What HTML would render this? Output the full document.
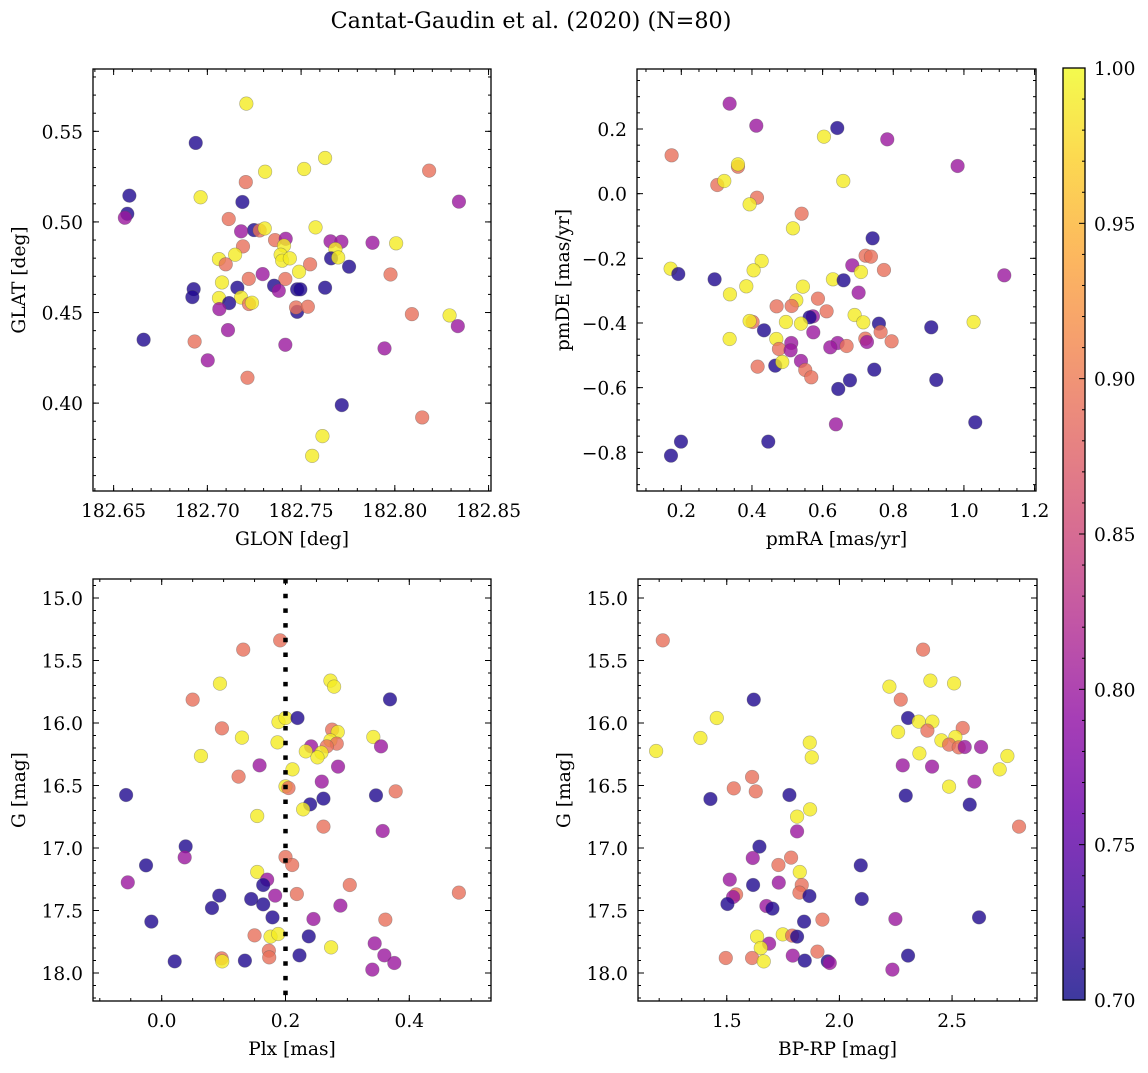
<!DOCTYPE html>
<html><head><meta charset="utf-8">
<style>
body{margin:0;background:#fff;}
svg text{font-family:"DejaVu Serif","Liberation Serif",serif;fill:#000;}
</style></head>
<body>
<svg id="fig" width="1148" height="1068" viewBox="0 0 1148 1068" xmlns="http://www.w3.org/2000/svg">
<text x="531" y="28" font-size="22.3" text-anchor="middle">Cantat-Gaudin et al. (2020) (N=80)</text>
</svg>
<script>
// ---- Panel 1: GLON / GLAT ----
const glon = [182.7208,182.6938,182.7628,182.8183,182.7308,182.7516,182.7205,182.6584,182.6964,182.7187,182.8342,182.6573,182.6560,182.7114,182.7577,182.7249,182.7279,182.7306,182.7180,182.7361,182.7418,182.7409,182.7190,182.7657,182.7715,182.7683,182.7881,182.8007,182.7148,182.7062,182.7098,182.7391,182.7399,182.7440,182.7660,182.7698,182.7548,182.7756,182.7489,182.7977,182.7295,182.7221,182.7416,182.7078,182.6927,182.6920,182.7160,182.7356,182.7381,182.7479,182.7496,182.7628,182.7062,182.7180,182.7116,182.7222,182.7238,182.7064,182.7479,182.7473,182.7536,182.8091,182.8292,182.8336,182.7110,182.6660,182.6932,182.7416,182.7945,182.7002,182.7214,182.7717,182.8146,182.7614,182.7559];
const glat = [0.5653,0.5436,0.5353,0.5283,0.5277,0.5292,0.5220,0.5145,0.5136,0.5110,0.5112,0.5045,0.5023,0.5016,0.4970,0.4955,0.4953,0.4964,0.4948,0.4900,0.4907,0.4869,0.4865,0.4893,0.4891,0.4850,0.4885,0.4882,0.4819,0.4795,0.4766,0.4819,0.4786,0.4799,0.4799,0.4804,0.4766,0.4753,0.4725,0.4710,0.4712,0.4686,0.4685,0.4666,0.4629,0.4585,0.4637,0.4648,0.4620,0.4628,0.4628,0.4637,0.4580,0.4583,0.4552,0.4547,0.4554,0.4519,0.4504,0.4528,0.4532,0.4491,0.4484,0.4425,0.4403,0.4350,0.4340,0.4322,0.4302,0.4236,0.4140,0.3989,0.3921,0.3818,0.3709];
const prob1 = [0.99,0.71,0.99,0.89,0.99,0.99,0.89,0.71,0.99,0.71,0.80,0.71,0.80,0.89,0.99,0.71,0.89,0.99,0.80,0.89,0.80,0.99,0.89,0.80,0.80,0.99,0.80,0.99,0.99,0.99,0.89,0.99,0.99,0.99,0.71,0.99,0.89,0.71,0.99,0.89,0.80,0.89,0.89,0.99,0.71,0.71,0.71,0.71,0.80,0.71,0.71,0.71,0.99,0.99,0.71,0.89,0.99,0.80,0.71,0.89,0.89,0.89,0.99,0.80,0.80,0.71,0.89,0.80,0.80,0.80,0.89,0.71,0.89,0.99,0.99];
// ---- Panel 2: pmRA / pmDE ----
const pmra = [0.3368,0.4123,0.6415,0.6038,0.7830,0.1726,0.9821,0.3604,0.3604,0.3019,0.3217,0.6585,0.4142,0.3934,0.5406,0.5160,0.7415,0.7217,0.7368,0.6840,0.7736,0.1698,0.1915,0.2943,0.4274,0.4047,0.7085,1.1142,0.6292,0.6594,0.3840,0.5443,0.3377,0.7019,0.5255,0.5868,0.5123,0.4698,0.6113,0.6906,0.5726,0.5632,0.7151,0.7594,0.4962,0.5387,0.4019,0.3934,1.0274,0.9075,0.4340,0.5736,0.7642,0.4689,0.3368,0.7208,0.7255,0.7953,0.5113,0.6425,0.6217,0.6679,0.4764,0.5094,0.5387,0.4660,0.4858,0.4160,0.5509,0.5679,0.7462,0.6774,0.9217,0.6443,1.0321,0.6377,0.1991,0.4462,0.1708];
const pmde = [0.2784,0.2103,0.2031,0.1763,0.1680,0.1186,0.0856,0.0835,0.0907,0.0268,0.0392,0.0392,-0.0124,-0.0330,-0.0619,-0.1072,-0.1381,-0.1918,-0.1948,-0.2216,-0.2361,-0.2320,-0.2485,-0.2649,-0.2082,-0.2371,-0.2423,-0.2526,-0.2649,-0.2680,-0.2866,-0.2876,-0.3113,-0.3062,-0.3299,-0.3247,-0.3474,-0.3485,-0.3639,-0.3753,-0.3794,-0.3825,-0.3979,-0.4021,-0.3969,-0.4021,-0.3969,-0.3938,-0.3969,-0.4134,-0.4227,-0.4289,-0.4278,-0.4495,-0.4495,-0.4485,-0.4588,-0.4567,-0.4619,-0.4619,-0.4753,-0.4711,-0.4804,-0.4845,-0.5175,-0.5320,-0.5206,-0.5351,-0.5454,-0.5680,-0.5443,-0.5773,-0.5763,-0.6041,-0.7072,-0.7134,-0.7670,-0.7670,-0.8103];
const prob2 = [0.80,0.80,0.71,0.99,0.80,0.89,0.80,0.89,0.99,0.89,0.99,0.99,0.89,0.99,0.89,0.99,0.71,0.89,0.89,0.80,0.89,0.99,0.71,0.71,0.99,0.99,0.99,0.80,0.99,0.71,0.99,0.99,0.99,0.80,0.99,0.89,0.89,0.89,0.89,0.99,0.80,0.71,0.99,0.71,0.99,0.99,0.89,0.99,0.99,0.71,0.71,0.80,0.89,0.99,0.99,0.89,0.80,0.89,0.80,0.80,0.80,0.89,0.89,0.80,0.80,0.71,0.99,0.89,0.89,0.89,0.71,0.71,0.71,0.71,0.71,0.80,0.71,0.71,0.71];
// ---- Panel 3: Plx / G ----
const plx = [0.1914,0.1317,0.0941,0.2726,0.2785,0.0500,0.3688,0.1887,0.2000,0.2194,0.0973,0.1296,0.1871,0.2753,0.2844,0.2726,0.2828,0.2414,0.2667,0.2328,0.2581,0.2516,0.3419,0.3543,0.0634,0.1581,0.2849,0.2113,0.1242,0.2586,0.2000,0.2048,-0.0575,0.3462,0.3780,0.2613,0.2398,0.2285,0.1543,0.2613,0.3570,0.0387,0.0371,0.2000,0.2108,-0.0253,0.1543,-0.0548,0.1704,0.1640,0.3038,0.4801,0.0930,0.2183,0.1833,0.1446,0.1640,0.0812,0.2887,0.1790,0.2452,0.3613,-0.0167,0.1500,0.1758,0.1882,0.2376,0.2737,0.3441,0.1731,0.1737,0.2226,0.3597,0.3758,0.3403,0.0210,0.0968,0.0978,0.1344];
const gmag3 = [15.339,15.413,15.685,15.661,15.709,15.813,15.811,15.992,15.960,15.960,16.043,16.117,16.155,16.053,16.072,16.139,16.165,16.187,16.187,16.227,16.237,16.275,16.112,16.187,16.264,16.339,16.349,16.371,16.429,16.469,16.507,16.520,16.576,16.579,16.547,16.605,16.651,16.691,16.744,16.829,16.864,16.987,17.075,17.072,17.136,17.139,17.192,17.275,17.253,17.296,17.296,17.357,17.381,17.368,17.381,17.408,17.451,17.480,17.461,17.555,17.568,17.573,17.589,17.699,17.709,17.688,17.707,17.795,17.763,17.821,17.875,17.859,17.859,17.920,17.973,17.907,17.883,17.907,17.901];
const prob3 = [0.89,0.89,0.99,0.99,0.99,0.89,0.71,0.99,0.99,0.71,0.89,0.99,0.99,0.89,0.99,0.99,0.89,0.80,0.89,0.99,0.99,0.99,0.99,0.80,0.99,0.80,0.80,0.99,0.89,0.80,0.99,0.89,0.71,0.71,0.89,0.71,0.71,0.99,0.99,0.89,0.80,0.71,0.80,0.89,0.89,0.71,0.99,0.80,0.80,0.71,0.89,0.89,0.71,0.89,0.80,0.71,0.71,0.71,0.80,0.71,0.80,0.89,0.71,0.89,0.99,0.99,0.71,0.99,0.80,0.89,0.89,0.71,0.80,0.80,0.80,0.71,0.89,0.99,0.71];
// ---- Panel 4: BP-RP / G ----
const bprp = [1.2160,2.3713,2.2219,2.4038,2.5089,2.2722,1.6198,1.4556,2.3047,2.3521,2.4127,2.5473,2.3905,2.2604,1.3831,1.1864,1.8683,1.8772,2.4527,2.5148,2.4867,2.5296,2.5562,2.6287,2.3550,2.7456,2.7115,2.2811,2.4112,1.6124,1.5311,1.6287,2.5991,2.4867,1.4275,1.7781,2.2944,2.5784,1.8698,1.8121,2.7973,1.8121,1.6450,1.6154,1.7855,2.0947,1.7293,1.8240,1.5133,1.6169,1.7308,1.8328,1.8225,1.5414,1.5281,1.8669,1.5030,1.6760,1.7027,2.0991,2.6198,2.2485,1.8432,1.9246,1.6346,1.7485,1.7899,1.8121,1.6879,1.6509,1.9024,1.4956,1.6124,1.6642,1.7929,1.8462,1.9482,1.9571,2.3047,2.2352];
const gmag4 = [15.339,15.413,15.709,15.661,15.683,15.813,15.813,15.960,15.960,15.989,15.989,16.040,16.061,16.072,16.120,16.224,16.157,16.275,16.139,16.112,16.173,16.195,16.192,16.192,16.243,16.264,16.371,16.339,16.349,16.432,16.523,16.547,16.469,16.509,16.608,16.576,16.581,16.653,16.691,16.749,16.829,16.867,16.989,17.080,17.077,17.139,17.136,17.192,17.253,17.296,17.277,17.296,17.357,17.371,17.392,17.384,17.448,17.464,17.485,17.408,17.555,17.568,17.589,17.573,17.709,17.691,17.701,17.709,17.765,17.800,17.829,17.880,17.880,17.907,17.861,17.901,17.907,17.920,17.861,17.973];
const prob4 = [0.89,0.89,0.99,0.99,0.99,0.89,0.71,0.99,0.71,0.99,0.99,0.89,0.89,0.99,0.99,0.99,0.99,0.99,0.99,0.99,0.89,0.89,0.80,0.80,0.99,0.99,0.99,0.80,0.80,0.89,0.89,0.89,0.80,0.99,0.71,0.71,0.71,0.71,0.99,0.99,0.89,0.80,0.71,0.80,0.89,0.71,0.89,0.99,0.80,0.71,0.80,0.89,0.89,0.89,0.80,0.71,0.71,0.80,0.71,0.71,0.71,0.80,0.71,0.89,0.99,0.99,0.89,0.71,0.80,0.99,0.89,0.89,0.89,0.99,0.80,0.71,0.71,0.80,0.71,0.80];
// ---- tick labels ----
const ticks1x = [182.65,182.70,182.75,182.80,182.85];
const ticks1y = [0.40,0.45,0.50,0.55];
const ticks2x = [0.2,0.4,0.6,0.8,1.0,1.2];
const ticks2y = [-0.8,-0.6,-0.4,-0.2,0.0,0.2];
const ticks3x = [0.0,0.2,0.4];
const ticksG = [15.0,15.5,16.0,16.5,17.0,17.5,18.0];
const ticks4x = [1.5,2.0,2.5];
const cbTicks = [0.70,0.75,0.80,0.85,0.90,0.95,1.00];
const plxCut = [0.2];

const NS="http://www.w3.org/2000/svg";
const svg=document.getElementById('fig');
const FS=18.6;
function mk(tag,attrs,parent){const e=document.createElementNS(NS,tag);for(const k in attrs)e.setAttribute(k,attrs[k]);(parent||svg).appendChild(e);return e;}
const stops=[[13,8,135],[65,4,157],[106,0,168],[143,13,164],[177,42,144],[204,71,120],[225,100,98],[242,132,75],[252,166,54],[252,206,37],[240,249,33]];
function plasma(t){t=Math.max(0,Math.min(1,t));const f=t*10,i=Math.min(9,Math.floor(f)),u=f-i;const a=stops[i],b=stops[i+1];return 'rgb('+[0,1,2].map(k=>Math.round(a[k]+(b[k]-a[k])*u)).join(',')+')';}
function cnorm(p){return (p-0.7)/0.3;}

function panel(cfg){
  const {x0,x1,y0,y1,xmin,xmax,ymin,ymax,invertY,xs,ys,ps,xt,yt,xminor,yminor,xfmt,yfmt,xlabel,ylabel,name}=cfg;
  const X=v=>x0+(v-xmin)/(xmax-xmin)*(x1-x0);
  const Y=v=>invertY? y0+(v-ymin)/(ymax-ymin)*(y1-y0) : y1-(v-ymin)/(ymax-ymin)*(y1-y0);
  const g=mk('g',{});
  
  
  const clip=mk('clipPath',{id:'c'+name},g);mk('rect',{x:x0,y:y0,width:x1-x0,height:y1-y0},clip);
  const pts=mk('g',{'clip-path':'url(#c'+name+')'},g);
  
  
  for(let i=0;i<xs.length;i++){
    const c=mk('circle',{cx:X(xs[i]),cy:Y(ys[i]),r:6.8,fill:plasma(cnorm(ps[i])),'fill-opacity':0.8,stroke:'#555','stroke-opacity':0.45,'stroke-width':0.6},pts);
    
    
  }
  if(cfg.vline){for(const v of cfg.vline){const l=mk('line',{x1:X(v),x2:X(v),y1:y0,y2:y1,stroke:'#000','stroke-width':4.5,'stroke-dasharray':'4.5 10.2'},g);
    
    }}
  const tk=mk('g',{stroke:'#000','stroke-width':1},g);
  
  
  for(let v=Math.ceil(xmin/xminor-1e-6)*xminor;v<=xmax+1e-9;v+=xminor){const px=X(v);mk('line',{x1:px,x2:px,y1:y1,y2:y1-3},tk);mk('line',{x1:px,x2:px,y1:y0,y2:y0+3},tk);}
  for(let v=Math.ceil(ymin/yminor-1e-6)*yminor;v<=ymax+1e-9;v+=yminor){const py=Y(v);mk('line',{x1:x0,x2:x0+3,y1:py,y2:py},tk);mk('line',{x1:x1,x2:x1-3,y1:py,y2:py},tk);}
  for(const v of xt){const px=X(v);mk('line',{x1:px,x2:px,y1:y1,y2:y1-6},tk);mk('line',{x1:px,x2:px,y1:y0,y2:y0+6},tk);
    const t=mk('text',{x:px,y:y1+26,'font-size':FS,'text-anchor':'middle'},g);t.textContent=xfmt(v);
    
    }
  for(const v of yt){const py=Y(v);mk('line',{x1:x0,x2:x0+6,y1:py,y2:py},tk);mk('line',{x1:x1,x2:x1-6,y1:py,y2:py},tk);
    const t=mk('text',{x:x0-10,y:py+7,'font-size':FS,'text-anchor':'end'},g);t.textContent=yfmt(v);
    
    }
  const fr=mk('rect',{x:x0,y:y0,width:x1-x0,height:y1-y0,fill:'none',stroke:'#000','stroke-width':1.3},g);
  
  
  const xl=mk('text',{x:(x0+x1)/2,y:y1+54,'font-size':FS,'text-anchor':'middle'},g);xl.textContent=xlabel;
  
  
  const yl=mk('text',{x:0,y:0,'font-size':FS,'text-anchor':'middle',transform:'translate('+(x0-68)+','+((y0+y1)/2)+') rotate(-90)'},g);yl.textContent=ylabel;
  
  
}
const minus=s=>s.replace('-','\u2212');
const f2=v=>minus(v.toFixed(2)),f1=v=>minus(v.toFixed(1));
panel({name:'glon-glat-panel',x0:93,x1:491,y0:69,y1:491,xmin:182.639,xmax:182.8513,ymin:0.3515,ymax:0.5844,xs:glon,ys:glat,ps:prob1,xt:ticks1x,yt:ticks1y,xminor:0.01,yminor:0.01,xfmt:f2,yfmt:f2,xlabel:'GLON [deg]',ylabel:'GLAT [deg]'});
panel({name:'proper-motion-panel',x0:637,x1:1036,y0:69,y1:491,xmin:0.0746,xmax:1.204,ymin:-0.9197,ymax:0.3856,xs:pmra,ys:pmde,ps:prob2,xt:ticks2x,yt:ticks2y,xminor:0.05,yminor:0.05,xfmt:f1,yfmt:f1,xlabel:'pmRA [mas/yr]',ylabel:'pmDE [mas/yr]'});
panel({name:'parallax-panel',x0:93,x1:491,y0:579,y1:1001,xmin:-0.111,xmax:0.532,ymin:14.848,ymax:18.224,invertY:true,xs:plx,ys:gmag3,ps:prob3,xt:ticks3x,yt:ticksG,xminor:0.05,yminor:0.1,xfmt:f1,yfmt:f1,xlabel:'Plx [mas]',ylabel:'G [mag]',vline:plxCut});
panel({name:'cmd-panel',x0:638,x1:1037,y0:579,y1:1001,xmin:1.106,xmax:2.877,ymin:14.848,ymax:18.224,invertY:true,xs:bprp,ys:gmag4,ps:prob4,xt:ticks4x,yt:ticksG,xminor:0.1,yminor:0.1,xfmt:f1,yfmt:f1,xlabel:'BP-RP [mag]',ylabel:'G [mag]'});

(function(){
  const cx0=1063,cx1=1085,cy0=68,cy1=1000;
  const defs=mk('defs',{});
  const lg=mk('linearGradient',{id:'cbg',x1:0,y1:1,x2:0,y2:0},defs);
  for(let i=0;i<=20;i++){mk('stop',{offset:(i/20),'stop-color':plasma(i/20)},lg);}
  const g=mk('g',{});
  
  
  const r=mk('rect',{x:cx0,y:cy0,width:cx1-cx0,height:cy1-cy0,fill:'url(#cbg)','fill-opacity':0.8,stroke:'#000','stroke-width':1.3},g);
  
  
  const Y=v=>cy1-(v-0.7)/0.3*(cy1-cy0);
  for(let k=70;k<=100;k++){const py=Y(k/100);const maj=(k%5===0);mk('line',{x1:cx1,x2:cx1-(maj?6:3),y1:py,y2:py,stroke:'#000','stroke-width':1},g);}
  for(const v of cbTicks){const t=mk('text',{x:cx1+9,y:Y(v)+7,'font-size':FS},g);t.textContent=v.toFixed(2);
    
    }
})();
</script>
</body></html>
